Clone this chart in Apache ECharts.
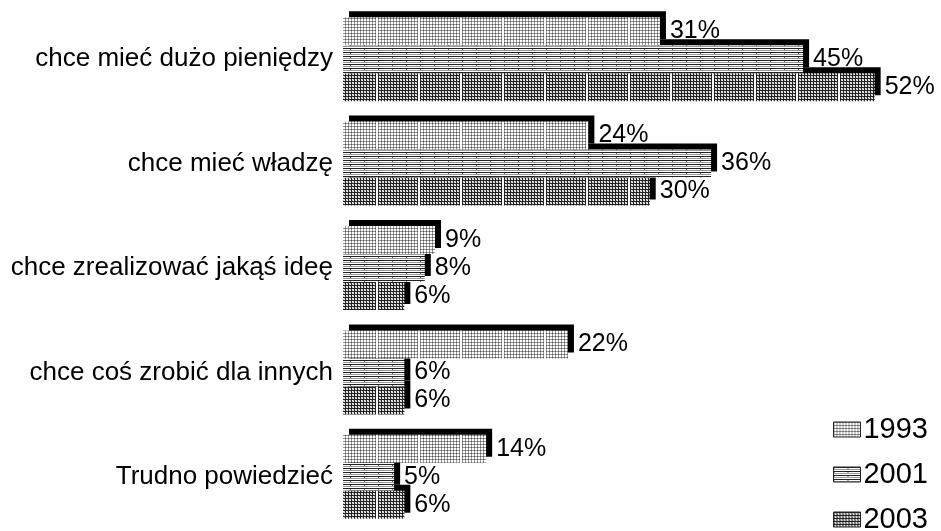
<!DOCTYPE html>
<html>
<head>
<meta charset="utf-8">
<script src="https://cdn.jsdelivr.net/npm/echarts@6/dist/echarts.min.js"></script>
<style>
  html, body { margin: 0; padding: 0; background: #fff; }
  #chart { width: 941px; height: 531px; }
</style>
</head>
<body>
<div id="chart"></div>
<script>
const categories = ['chce mieć dużo pieniędzy', 'chce mieć władzę', 'chce zrealizować jakąś ideę', 'chce coś zrobić dla innych', 'Trudno powiedzieć']
const years = ['1993', '2001', '2003']
const values1993 = [31, 24, 9, 22, 14]
const values2001 = [45, 36, 8, 6, 5]
const values2003 = [52, 30, 6, 6, 6]

// small hatch tiles to mimic the old print patterns
const makeTile = (w, h, draw) => {
  const c = document.createElement('canvas')
  c.width = w
  c.height = h
  const ctx = c.getContext('2d')
  ctx.fillStyle = '#fff'
  ctx.fillRect(0, 0, w, h)
  draw(ctx)
  return { image: c, repeat: 'repeat' }
}

// 1993: light dotted grid
const pattern1993 = makeTile(42, 3, (ctx) => {
  for (let x = 0; x < 40; x++) {
    ctx.fillStyle = '#999'
    ctx.fillRect(x, 0, 1, 1)
    if (x % 3 === 0) {
      ctx.fillStyle = '#555'
      ctx.fillRect(x, 0, 1, 1)
      ctx.fillStyle = '#999'
      ctx.fillRect(x, 1, 1, 2)
    }
  }
})
// 2001: horizontal lines
const pattern2001 = makeTile(14, 4, (ctx) => {
  ctx.fillStyle = '#222'
  ctx.fillRect(0, 0, 14, 1)
  ctx.fillStyle = '#999'
  ctx.fillRect(0, 2, 14, 1)
  ctx.fillStyle = '#666'
  ctx.fillRect(0, 1, 1, 1)
})
// 2003: dense dark grid
const pattern2003 = makeTile(42, 3, (ctx) => {
  ctx.fillStyle = '#222'
  ctx.fillRect(0, 0, 40, 1)
  for (let x = 0; x < 40; x += 3) ctx.fillRect(x, 1, 1, 2)
  ctx.fillStyle = '#bbb'
  for (let x = 1; x < 40; x += 3) {
    ctx.fillRect(x + 1, 1, 1, 1)
    ctx.fillRect(x, 2, 1, 1)
  }
})

const patterns = [pattern1993, pattern2001, pattern2003]
const seriesValues = [values1993, values2001, values2003]
const font = "'Liberation Sans', Arial, sans-serif"

const chart = echarts.init(document.getElementById('chart'))
const options = {
  animation: false,
  backgroundColor: '#fff',
  textStyle: { fontFamily: font },
  grid: {
    left: 343,
    right: 5,
    top: 7,
    bottom: 2
  },
  legend: {
    orient: 'vertical',
    right: 8,
    bottom: -8,
    icon: 'rect',
    itemWidth: 27,
    itemHeight: 15,
    itemGap: 16,
    textStyle: { fontSize: 29, color: '#000', fontFamily: font, padding: [0, 0, 0, -2] },
    itemStyle: { shadowBlur: 0, shadowOffsetX: 0, shadowOffsetY: 0, shadowColor: 'transparent', borderColor: '#222', borderWidth: 1 },
    data: years
  },
  xAxis: {
    type: 'value',
    min: 0,
    max: 58,
    show: false,
    splitLine: { show: false }
  },
  yAxis: {
    type: 'category',
    inverse: true,
    data: categories,
    axisLine: { show: false },
    axisTick: { show: false },
    axisLabel: { fontSize: 26, color: '#000', margin: 10, fontFamily: font }
  },
  series: years.map((y, i) => ({
    name: y,
    type: 'bar',
    data: seriesValues[i],
    barWidth: 28,
    barGap: '0%',
    z: 5 - i,
    itemStyle: {
      color: patterns[i],
      borderWidth: 0,
      shadowColor: '#000',
      shadowBlur: 0,
      shadowOffsetX: 6,
      shadowOffsetY: -6
    },
    label: {
      show: true,
      position: 'right',
      distance: 10,
      formatter: '{c}%',
      fontSize: 25,
      color: '#000',
      fontFamily: font
    }
  }))
}
chart.setOption(options)
</script>
</body>
</html>
